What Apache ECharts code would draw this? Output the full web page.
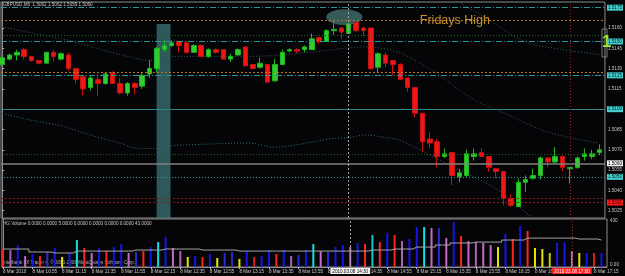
<!DOCTYPE html>
<html><head><meta charset="utf-8">
<script src="https://cdn.jsdelivr.net/npm/echarts@6/dist/echarts.min.js"></script>
<style>html,body{margin:0;padding:0;background:#050507;}#c{width:625px;height:276px;}</style>
</head><body><div id="c"></div>
<script>
// ---------------- data ----------------
const tickIndex = [0,4,8,12,16,20,24,28,32,36,40,44,48,52,56,60,64,68,72,76,80];
const tickLabels = ['8 Mar 2010','8 Mar 10:55','8 Mar 11:15','8 Mar 11:35','8 Mar 11:55','8 Mar 12:15','8 Mar 12:35','8 Mar 12:55','8 Mar 13:15','8 Mar 13:35','8 Mar 13:55','8 Mar 14:15','8 Mar 14:35','8 Mar 14:55','8 Mar 15:15','8 Mar 15:35','8 Mar 15:55','8 Mar 16:15','8 Mar 16:35','8 Mar 16:55','8 Mar 17:15'];
const priceTicks = [1.5025,1.5040,1.5055,1.5070,1.5085,1.5100,1.5115,1.5130,1.5145,1.5160];

const openP = [1.5133,1.5137,1.5140,1.5144,1.5139,1.5136,1.5134,1.5142,1.5137,1.5140,
1.5130,1.5124,1.5116,1.5122,1.5119,1.5127,1.5119,1.5112,1.5119,1.5117,
1.5126,1.5130,1.5144,1.5147,1.5150,1.5149,1.5142,1.5147,1.5139,1.5144,
1.5144,1.5137,1.5140,1.5146,1.5133,1.5131,1.5133,1.5121,1.5133,1.5143,
1.5144,1.5144,1.5144,1.5153,1.5150,1.5158,1.5160,1.5156,1.5164,1.5160,
1.5160,1.5131,1.5140,1.5136,1.5133,1.5123,1.5116,1.5097,1.5078,1.5076,
1.5065,1.5068,1.5050,1.5051,1.5065,1.5068,1.5065,1.5056,1.5054,1.5034,
1.5028,1.5046,1.5049,1.5051,1.5064,1.5061,1.5065,1.5056,1.5057,1.5065,
1.5065,1.5068];
const closeP = [1.5138,1.5140,1.5142,1.5139,1.5136,1.5134,1.5142,1.5139,1.5141,1.5130,
1.5122,1.5115,1.5123,1.5119,1.5126,1.5119,1.5112,1.5119,1.5116,1.5125,
1.5130,1.5145,1.5147,1.5149,1.5147,1.5142,1.5147,1.5139,1.5144,1.5142,
1.5137,1.5139,1.5144,1.5132,1.5130,1.5134,1.5120,1.5133,1.5142,1.5144,
1.5143,1.5146,1.5152,1.5150,1.5158,1.5159,1.5157,1.5163,1.5158,1.5158,
1.5130,1.5141,1.5134,1.5133,1.5122,1.5116,1.5097,1.5076,1.5075,1.5065,
1.5067,1.5051,1.5053,1.5067,1.5067,1.5065,1.5057,1.5054,1.5034,1.5029,
1.5046,1.5048,1.5051,1.5064,1.5061,1.5065,1.5057,1.5057,1.5064,1.5067,
1.5067,1.5070];
const lowP = [1.5132,1.5136,1.5136,1.5137,1.5135,1.5133,1.5134,1.5135,1.5136,1.5128,
1.5119,1.5110,1.5114,1.5110,1.5118,1.5119,1.5111,1.5110,1.5111,1.5115,
1.5123,1.5127,1.5142,1.5146,1.5142,1.5141,1.5142,1.5139,1.5138,1.5141,
1.5137,1.5135,1.5140,1.5132,1.5130,1.5130,1.5120,1.5120,1.5133,1.5142,
1.5141,1.5142,1.5144,1.5148,1.5150,1.5155,1.5152,1.5156,1.5157,1.5154,
1.5129,1.5127,1.5131,1.5125,1.5122,1.5113,1.5094,1.5068,1.5071,1.5057,
1.5064,1.5044,1.5046,1.5050,1.5062,1.5065,1.5054,1.5049,1.5029,1.5028,
1.5028,1.5039,1.5048,1.5048,1.5057,1.5060,1.5054,1.5045,1.5056,1.5062,
1.5063,1.5066];
const highP = [1.5139,1.5141,1.5144,1.5145,1.5139,1.5136,1.5142,1.5144,1.5142,1.5142,
1.5130,1.5124,1.5125,1.5126,1.5127,1.5128,1.5123,1.5120,1.5120,1.5127,
1.5136,1.5146,1.5151,1.5151,1.5150,1.5150,1.5148,1.5148,1.5145,1.5145,
1.5144,1.5141,1.5145,1.5146,1.5133,1.5138,1.5133,1.5137,1.5144,1.5145,
1.5145,1.5147,1.5156,1.5153,1.5159,1.5166,1.5161,1.5164,1.5166,1.5161,
1.5160,1.5142,1.5142,1.5136,1.5134,1.5123,1.5116,1.5097,1.5083,1.5078,
1.5071,1.5068,1.5056,1.5070,1.5071,1.5071,1.5065,1.5056,1.5054,1.5037,
1.5049,1.5051,1.5056,1.5065,1.5064,1.5072,1.5066,1.5057,1.5065,1.5071,
1.5070,1.5074];

const volume = [176,166,215,107,127,107,147,186,98,137,264,186,137,186,156,195,225,137,147,156,
195,244,293,186,156,98,107,98,127,88,137,147,78,156,98,107,166,127,166,107,
117,166,225,156,147,195,215,195,235,225,313,244,332,313,254,274,391,391,381,381,
283,440,303,254,244,235,215,195,322,274,401,352,186,176,137,235,244,156,137,137,137,137];
const volumeClass = ['r','V','b','v','b','r','B','b','y','b','c','r','v','b','r','b','b','v','B','r',
'b','c','b','v','V','y','b','r','b','y','B','B','y','b','R','b','b','r','b','V',
'B','b','c','v','B','b','b','v','b','r','C','r','b','r','V','b','b','c','v','B',
'v','b','r','v','V','v','v','y','b','r','b','r','y','y','Y','b','b','v','y','b','R','b'];
const volumeMA = [176,176,176,176,147,147,147,137,137,137,
156,156,156,156,156,156,156,156,166,166,166,166,176,176,176,176,176,
166,166,166,166,166,156,156,156,156,156,156,156,156,156,156,156,156,156,156,156,156,156,156,
166,166,166,176,176,176,195,195,195,215,215,235,235,235,244,244,244,244,264,264,264,
283,283,283,283,283,283,283,274,274,274,264];

// indicator curves read as [bar index, price]
const maUpper = [[60.5,1.5188],[61.6,1.5181],[66,1.5166],[70.9,1.5150],[76,1.5144],[81.7,1.5140]];
const maMiddle = [[0,1.5161],[4.3,1.5156],[8.9,1.5151],[13.4,1.5144],[17.8,1.5138],[19.7,1.5136],[23.8,1.5139],[28,1.5139],[33.5,1.5139],[37.6,1.5140],[41.6,1.5142],[46.4,1.5145],[49,1.5146],[52.4,1.5144],[55,1.5139],[59,1.5126],[64,1.5107],[68.6,1.5096],[74,1.5083],[80.8,1.5075]];
const maLower = [[0,1.5097],[3.8,1.5092],[7.8,1.5088],[11.9,1.5081],[15.9,1.5075],[18.6,1.5071],[20.9,1.5071],[23.1,1.5073],[26.8,1.5074],[33.5,1.5075],[36.9,1.5072],[40.3,1.5074],[44.3,1.5078],[47,1.5079],[49.3,1.5081],[52,1.5079],[54,1.5077],[60.5,1.5059],[67.3,1.5040],[71.8,1.5020],[73,1.5014]];

// horizontal level lines and vertical time lines
const levelPrices = [1.5175,1.5166,1.5155,1.5150,1.5127,1.5125,1.5100,1.5067,1.5060,1.5050,1.5034,1.5031];
const levelKinds = ['cyanDashDot','orange','green','cyanDashDot','orange','cyanDashDot','tealSolid','green','bid','cyanDot','red','redLabel'];
const vLineIndex = [47,77];
const vLineLabels = ['2010.03.08 14:30','2010.03.08 17:00'];
const vLineKinds = ['grey','red'];

// annotations
const shadeFrom = [20.95,1.5163], shadeTo = [22.84,1.50196];
const ellipseAt = [46.4,1.5168];
const noteAt = [61.4,1.51652], noteText = 'Fridays High';
const headerText = 'GBPUSD,M5  1.5062 1.5062 1.5059 1.5060';
const volHeaderText = 'HG Volume 0.0000 0.0000 5.0000 0.0000 0.0000 0.0000 0.0000 43.0000';
const copyrightText = 'Interbank FX Trader 4, \u00a9 2001-2008 MetaQuotes Software Corp.';
const volAxisLabels = {0:'0.00', 430:'430'};

// ---------------- styles ----------------
const FONT = 'Liberation Sans';
const FS = 4.6;
const levelStyles = {
  cyanDashDot:{color:'#2b9696',type:[6,2,1,2],width:1,bg:'#48cccc',fg:'#002020'},
  orange:{color:'#b8741e',type:[2,2],width:1},
  green:{color:'#1d6a1d',type:[1,2],width:1},
  tealSolid:{color:'#2e8686',type:'solid',width:1,bg:'#48cccc',fg:'#002020'},
  bid:{color:'#808080',type:'solid',width:1.5,bg:'#f2f2f2',fg:'#000'},
  cyanDot:{color:'#3a9696',type:[1,2],width:1,bg:'#48cccc',fg:'#002020'},
  red:{color:'#8a1a1a',type:[2,2],width:1},
  redLabel:{color:'#8a1a1a',type:[2,2],width:1,bg:'#ff1a1a',fg:'#300000'}
};
const vStyles = {
  grey:{color:'#a0a0a0',type:[2,2],bg:'#f2f2f2',fg:'#000'},
  red:{color:'#8a2a1a',type:[1,2],bg:'#ff1a1a',fg:'#fff'}
};
const volColors = {b:'#1414e6',B:'#2a2ad0',v:'#c868c8',V:'#b060b8',r:'#ff2222',R:'#d82020',y:'#e6e600',Y:'#c8c800',c:'#10e0e0',C:'#10c8c8'};

// ---------------- build ----------------
const candles = openP.map((o,i)=>[i,o,closeP[i],lowP[i],highP[i]]);
const volData = volume.map((v,i)=>({value:[i,v],itemStyle:{color:volColors[volumeClass[i]]}}));
const volMAData = volumeMA.map((v,i)=>[i,v]);

const levelLines = levelPrices.map((p,k)=>{
  const s = levelStyles[levelKinds[k]];
  return {yAxis:p,lineStyle:{color:s.color,type:s.type,width:s.width},
    label: s.bg ? {show:true,position:'end',distance:2,formatter:p.toFixed(4),backgroundColor:s.bg,color:s.fg,
      fontFamily:FONT,fontSize:FS,padding:[1,1,0,1],lineHeight:5} : {show:false}};
});
const vLinesMain = vLineIndex.map((x,k)=>({xAxis:x,lineStyle:{color:vStyles[vLineKinds[k]].color,type:vStyles[vLineKinds[k]].type,width:1},label:{show:false}}));
const vLinesVol = vLineIndex.map((x,k)=>{
  const s = vStyles[vLineKinds[k]];
  return {xAxis:x,lineStyle:{color:s.color,type:s.type,width:1},
    label:{show:true,position:'start',distance:1,formatter:vLineLabels[k],backgroundColor:s.bg,color:s.fg,fontFamily:FONT,fontSize:FS,padding:[1,2,0,2],lineHeight:5}};
});

const XMIN = -0.15, XMAX = 81.75;
const chart = echarts.init(document.getElementById('c'));
chart.setOption({
  animation:false,
  backgroundColor:'#050507',
  grid:[
    {left:1,right:18,top:2,height:216,show:true,borderColor:'#8c8c8c',borderWidth:1,backgroundColor:'transparent'},
    {left:1,right:18,top:219,height:48,show:true,borderColor:'#8c8c8c',borderWidth:1,backgroundColor:'transparent'}
  ],
  xAxis:[
    {type:'value',gridIndex:0,min:XMIN,max:XMAX,axisLine:{show:false},axisTick:{show:false},axisLabel:{show:false},splitLine:{show:false}},
    {type:'value',gridIndex:1,min:XMIN,max:XMAX,axisLine:{show:true,lineStyle:{color:'#8c8c8c'}},
      axisTick:{show:true,length:2,customValues:tickIndex,lineStyle:{color:'#bbbbbb'}},
      axisLabel:{show:true,customValues:tickIndex,formatter:v=>tickLabels[tickIndex.indexOf(Math.round(v))]||'',align:'left',margin:2,
        fontFamily:FONT,fontSize:FS,color:'#c8c8c8'},splitLine:{show:false}}
  ],
  yAxis:[
    {type:'value',gridIndex:0,position:'right',min:1.50196,max:1.51792,axisLine:{show:true,lineStyle:{color:'#8c8c8c'}},
      axisTick:{show:true,length:2,customValues:priceTicks,lineStyle:{color:'#bbbbbb'}},
      axisLabel:{show:true,customValues:priceTicks,formatter:v=>v.toFixed(4),margin:3,fontFamily:FONT,fontSize:FS,color:'#c8c8c8'},
      splitLine:{show:false}},
    {type:'value',gridIndex:1,position:'right',min:0,max:470,axisLine:{show:true,lineStyle:{color:'#8c8c8c'}},
      axisTick:{show:false},
      axisLabel:{show:true,customValues:[0,430],formatter:v=>volAxisLabels[Math.round(v)]||'',margin:3,fontFamily:FONT,fontSize:FS,color:'#c8c8c8',verticalAlign:'bottom'},
      splitLine:{show:false}}
  ],
  series:[
    {type:'scatter',xAxisIndex:0,yAxisIndex:0,z:1,silent:true,data:[ellipseAt],symbol:'circle',symbolSize:[36,16],
      itemStyle:{color:'#3a6262',opacity:0.92},
      markArea:{silent:true,itemStyle:{color:'rgba(64,124,124,0.7)'},data:[[{xAxis:shadeFrom[0],yAxis:shadeFrom[1]},{xAxis:shadeTo[0],yAxis:shadeTo[1]}]]},
      markPoint:{silent:true,symbol:'rect',symbolSize:1,itemStyle:{color:'rgba(0,0,0,0)'},
        data:[{coord:noteAt,label:{show:true,position:'inside',formatter:noteText,color:'#c8922c',fontFamily:FONT,fontSize:12.5}}]}
    },
    {type:'line',xAxisIndex:0,yAxisIndex:0,z:2,silent:true,data:maLower,smooth:0.35,showSymbol:false,
      lineStyle:{color:'#347272',width:1,type:[1,2]},
      markLine:{silent:true,symbol:'none',precision:6,animation:false,data:levelLines.concat(vLinesMain)}},
    {type:'line',xAxisIndex:0,yAxisIndex:0,z:2,silent:true,data:maMiddle,smooth:0.35,showSymbol:false,
      lineStyle:{color:'#2c5c5c',width:1,type:[1,2]}},
    {type:'line',xAxisIndex:0,yAxisIndex:0,z:2,silent:true,data:maUpper,smooth:0.35,showSymbol:false,
      lineStyle:{color:'#2c6060',width:1,type:[1,2]}},
    {type:'candlestick',xAxisIndex:0,yAxisIndex:0,z:3,silent:true,data:candles,encode:{x:0,y:[1,2,3,4]},barWidth:5,
      itemStyle:{color:'#30cc30',color0:'#f01616',borderColor:'#1eb41e',borderColor0:'#c81212',borderWidth:1}},
    {type:'bar',xAxisIndex:1,yAxisIndex:1,z:3,silent:true,data:volData,barWidth:2,
      markLine:{silent:true,symbol:'none',precision:4,data:vLinesVol}},
    {type:'line',xAxisIndex:1,yAxisIndex:1,z:4,silent:true,data:volMAData,step:'middle',showSymbol:false,
      lineStyle:{color:'#a8a8a8',width:1}}
  ],
  graphic:[
    {type:'text',left:3,top:2,style:{text:headerText,fill:'#c8c8c8',font:FS+'px "'+FONT+'"'}},
    {type:'text',left:3,top:221,style:{text:volHeaderText,fill:'#c8c8c8',font:FS+'px "'+FONT+'"'}},
    {type:'text',left:3,top:260,style:{text:copyrightText,fill:'#b0b0b0',font:FS+'px "'+FONT+'"'}},
    {type:'rect',shape:{x:602,y:29,width:5,height:28},style:{fill:'none',stroke:'#7a7a7a',lineWidth:1}},
    {type:'text',left:602,top:34,style:{text:'1',fill:'#9ee82a',font:'bold 17px "'+FONT+'"'}}
  ]
});
</script></body></html>
